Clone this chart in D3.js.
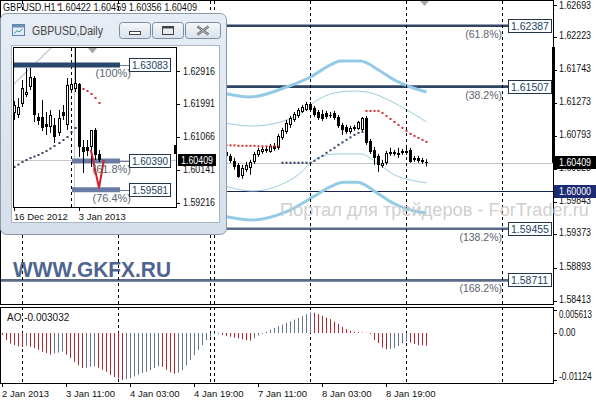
<!DOCTYPE html>
<html><head><meta charset="utf-8">
<script src="https://cdn.jsdelivr.net/npm/d3@7/dist/d3.min.js"></script>
<style>
html,body{margin:0;padding:0;background:#fff;overflow:hidden}
svg{display:block}
text{font-family:"Liberation Sans",Arial,sans-serif}
</style></head><body>
<svg id="chart" width="596" height="400"></svg>
<script>
// ================= DATA =================
const chartTitle = "GBPUSD.H1 1.60422 1.60459 1.60356 1.60409";
const lastClose = 1.60409;
const roundLevel = 1.60000;
const priceTicks = [1.62693,1.62223,1.61743,1.61273,1.60793,1.60323,1.59843,1.59373,1.58893,1.58413];
const aoTicks = [0.005613, 0, -0.01124];
const aoTickLabels = ["0.005613","0.00","-0.01124"];
const aoTitle = "AO -0.003032";
const timeLabels = ["2 Jan 2013","3 Jan 11:00","4 Jan 03:00","4 Jan 19:00","7 Jan 11:00","8 Jan 03:00","8 Jan 19:00"];
const timeLabelBars = [0,16,32,48,64,80,96];
const daySeparatorBars = [5,29,52,53,77,101,125];

// H1 candles (bars 55..106; earlier ones are hidden behind the daily window)
const candleBars = [55,56,57,58,59,60,61,62,63,64,65,66,67,68,69,70,71,72,73,74,75,76,77,78,79,80,81,82,83,84,85,86,87,88,89,90,91,92,93,94,95,96,97,98,99,100,101,102,103,104,105,106];
const candleOpen  = [1.60595,1.60566,1.60509,1.60437,1.60379,1.60221,1.60307,1.60336,1.60422,1.60523,1.60566,1.60609,1.60566,1.60653,1.60624,1.60768,1.60854,1.60955,1.61027,1.61085,1.61142,1.61171,1.61257,1.61200,1.61142,1.61113,1.61128,1.61099,1.61128,1.61070,1.60955,1.60926,1.60854,1.60926,1.60897,1.60883,1.61056,1.60725,1.60595,1.60509,1.60365,1.60408,1.60537,1.60566,1.60523,1.60552,1.60552,1.60595,1.60451,1.60480,1.60451,1.60422];
const candleHigh  = [1.60624,1.60595,1.60537,1.60480,1.60408,1.60379,1.60422,1.60451,1.60566,1.60624,1.60638,1.60638,1.60681,1.60696,1.60825,1.60912,1.61027,1.61085,1.61142,1.61200,1.61243,1.61286,1.61286,1.61229,1.61171,1.61171,1.61157,1.61142,1.61157,1.61099,1.60984,1.60955,1.60941,1.60955,1.61013,1.61070,1.61085,1.60753,1.60638,1.60537,1.60451,1.60581,1.60624,1.60595,1.60624,1.60609,1.60667,1.60624,1.60509,1.60509,1.60480,1.60459];
const candleLow   = [1.60523,1.60480,1.60408,1.60307,1.60192,1.60177,1.60278,1.60235,1.60393,1.60494,1.60537,1.60552,1.60552,1.60581,1.60595,1.60739,1.60825,1.60912,1.60998,1.61056,1.61128,1.61157,1.61142,1.61070,1.61027,1.61013,1.61041,1.61056,1.61027,1.60912,1.60811,1.60825,1.60825,1.60869,1.60883,1.60869,1.60667,1.60537,1.60379,1.60278,1.60336,1.60379,1.60509,1.60509,1.60480,1.60523,1.60523,1.60408,1.60422,1.60408,1.60393,1.60356];
const candleClose = [1.60552,1.60509,1.60437,1.60350,1.60206,1.60336,1.60379,1.60422,1.60537,1.60595,1.60609,1.60581,1.60653,1.60609,1.60797,1.60883,1.60984,1.61056,1.61113,1.61171,1.61214,1.61257,1.61171,1.61099,1.61056,1.61041,1.61070,1.61085,1.61056,1.60941,1.60883,1.60854,1.60912,1.60897,1.60998,1.61056,1.60696,1.60566,1.60480,1.60379,1.60408,1.60552,1.60566,1.60537,1.60552,1.60581,1.60581,1.60422,1.60480,1.60437,1.60422,1.60409];

// Parabolic SAR
const sarAboveBars   = [14,55,56,57,58,59,60,61,62,63,64,65,66,67,68,69,91,92,93,94,95,96,97,98,99,100,101,102,103,104,105,106];
const sarAboveValues = [1.62690,1.60660,1.60660,1.60660,1.60660,1.60653,1.60653,1.60653,1.60653,1.60653,1.60646,1.60646,1.60646,1.60646,1.60646,1.60646,1.61157,1.61157,1.61157,1.61157,1.61128,1.61085,1.61041,1.60998,1.60955,1.60912,1.60869,1.60825,1.60796,1.60768,1.60739,1.60710];
const sarBelowBars   = [70,71,72,73,74,75,76,77,78,79,80,81,82,83,84,85,86,87,88,89,90];
const sarBelowValues = [1.60408,1.60408,1.60408,1.60408,1.60408,1.60408,1.60408,1.60408,1.60437,1.60473,1.60509,1.60552,1.60588,1.60624,1.60667,1.60703,1.60739,1.60775,1.60811,1.60840,1.60854];

// Bands [bar, price]
const bandUpperWide = [[54,1.61430],[62,1.61358],[71,1.61502],[77,1.61647],[82,1.61820],[84.5,1.61877],[89.5,1.61877],[94,1.61748],[98,1.61603],[102,1.61502],[106,1.61430]];
const bandUpperThin = [[54,1.60997],[62.5,1.60939],[71,1.61026],[75,1.61141],[78,1.61286],[83,1.61416],[88,1.61444],[91,1.61430],[98,1.61271],[102,1.61141],[106,1.60997]];
const bandLowerThin = [[54,1.60102],[62.5,1.60001],[71,1.60131],[74.5,1.60261],[77,1.60405],[79.5,1.60492],[83,1.60535],[89.5,1.60535],[93.75,1.60405],[98,1.60232],[102,1.60160],[106,1.60117]];
const bandLowerWide = [[54,1.59655],[62.5,1.59583],[71,1.59702],[77.75,1.59919],[82,1.60063],[85.25,1.60127],[88.75,1.60127],[93.75,1.59968],[97.75,1.59824],[103.75,1.59702],[106,1.59683]];

// Fibonacci levels (main chart)
const fibLevels = [1.62387,1.61507,1.59455,1.58711];
const fibLabels = ["(61.8%)","(38.2%)","(138.2%)","(168.2%)"];

// Awesome Oscillator, bars 0..106
const aoValues = [-0.0005,-0.0017,-0.0025,-0.0029,-0.0032,-0.0033,-0.0031,-0.0033,-0.0036,-0.0040,
 -0.0045,-0.0048,-0.0052,-0.0049,-0.0047,-0.0044,-0.0052,-0.0060,-0.0069,-0.0077,
 -0.0084,-0.0083,-0.0081,-0.0080,-0.0083,-0.0088,-0.0093,-0.0100,-0.0105,-0.0109,
 -0.01124,-0.0110,-0.0108,-0.0104,-0.0100,-0.0096,-0.0093,-0.0089,-0.0084,-0.0080,
 -0.0081,-0.0088,-0.0094,-0.0097,-0.0095,-0.0089,-0.0077,-0.0065,-0.0053,-0.0041,
 -0.0029,-0.0017,-0.0009,-0.0003,-0.0002,-0.0005,-0.0007,-0.0009,-0.0011,-0.0013,
 -0.0015,-0.0017,-0.0018,-0.0013,-0.0006,-0.0002,0.0003,0.0008,0.0012,0.0016,
 0.0020,0.0024,0.0028,0.0032,0.0036,0.0040,0.0045,0.0049,0.00485,0.0045,
 0.0041,0.0037,0.0033,0.0027,0.0022,0.0015,0.0009,0.00055,0.0003,0.00022,
 0.00012,0.00005,-0.0002,-0.0017,-0.0024,-0.0035,-0.0039,-0.0038,-0.0036,-0.0031,
 -0.0025,-0.0021,-0.0023,-0.0026,-0.0029,-0.0030,-0.003032];

// Inset: GBPUSD Daily
const insetTitle = "GBPUSD,Daily";
const insetTicks = [1.62916,1.61991,1.61066,1.60141,1.59216];
const insetTimeLabels = ["16 Dec 2012","3 Jan 2013"];
const insetTimeBars = [0,16];
const dOpen  = [1.61736,1.61680,1.61989,1.62242,1.62466,1.62719,1.61623,1.61623,1.61427,1.61342,1.61399,1.61174,1.61764,1.61399,1.62382,1.62410,1.62551,1.60780,1.60780,1.60780,1.61258,1.60584];
const dHigh  = [1.62073,1.62157,1.62663,1.63000,1.63000,1.62776,1.61736,1.62101,1.61764,1.61820,1.61595,1.61820,1.61961,1.62719,1.62663,1.63800,1.62579,1.60977,1.60977,1.61258,1.61314,1.60696];
const dLow   = [1.61539,1.61595,1.61904,1.62185,1.62382,1.61483,1.61399,1.61230,1.61118,1.61174,1.60893,1.61090,1.61539,1.61258,1.62326,1.62326,1.60500,1.60050,1.60528,1.60218,1.60416,1.60359];
const dClose = [1.61961,1.61904,1.62438,1.62326,1.62747,1.61680,1.61511,1.61314,1.61342,1.61680,1.61061,1.61595,1.61651,1.62523,1.62551,1.62579,1.60780,1.60640,1.60668,1.61258,1.60556,1.60409];
const dSarBelow = [1.60218,1.60289,1.60359,1.60415,1.60471,1.60513,1.60556,1.60612,1.60668,1.60738,1.60809,1.60893,1.60977,1.61061,1.61202,1.61314];
const dSarAboveBars = [17,18,19,20,21];
const dSarAbove = [1.62410,1.62354,1.62270,1.62157,1.62017];
const dZigzag = [[19,1.60696],[21,1.59628],[22.2,1.60415]];
const dFibLevels = [1.63083,1.60390,1.59581];
const dFibLabels = ["(100%)","(61.8%)","(76.4%)"];
const dTrend = [[-0.25,1.62523],[9.4,1.63590]];

// ================= DRAW =================
const svg = d3.select("#chart");
const defs = svg.append("defs");
function clip(id,x,y,w,h){defs.append("clipPath").attr("id",id).append("rect").attr("x",x).attr("y",y).attr("width",w).attr("height",h);}
clip("cMain",1,1,552,303);
clip("cAO",1,308,552,75);
clip("cIn",14,48,162,159);
const g1 = defs.append("linearGradient").attr("id","frameG").attr("x1",0).attr("y1",0).attr("x2",0).attr("y2",1);
g1.append("stop").attr("offset","0").attr("stop-color","#e6edf5");
g1.append("stop").attr("offset","1").attr("stop-color","#d5dfea");
const g2 = defs.append("linearGradient").attr("id","btnG").attr("x1",0).attr("y1",0).attr("x2",0).attr("y2",1);
g2.append("stop").attr("offset","0").attr("stop-color","#f6f8fb");
g2.append("stop").attr("offset","1").attr("stop-color","#d9e1ea");

const xM = d3.scaleLinear().domain([0,125]).range([2,502]);
const yM = d3.scaleLinear().domain([1.58413,1.62693]).range([301,4.5]);
const yA = d3.scaleLinear().domain([-0.01124,0.005613]).range([380,309.5]);
const xI = d3.scaleLinear().domain([0,21]).range([14,99]);
const yI = d3.scaleLinear().domain([1.59216,1.62916]).range([202.7,71]);
const px = v => Math.round(v)+0.5;

svg.append("rect").attr("width",596).attr("height",400).attr("fill","#fff");

function drawCandles(g,bars,o,h,l,c,x,y){
  const data = bars.map((k,i)=>({k,o:o[i],h:h[i],l:l[i],c:c[i]}));
  g.append("g").selectAll("line").data(data).join("line")
   .attr("x1",d=>px(x(d.k))).attr("x2",d=>px(x(d.k)))
   .attr("y1",d=>y(d.h)).attr("y2",d=>y(d.l)).attr("stroke","#000").attr("stroke-width",1);
  g.append("g").selectAll("rect").data(data).join("rect")
   .attr("x",d=>Math.round(x(d.k))-1).attr("width",3)
   .attr("y",d=>Math.round(y(Math.max(d.o,d.c))))
   .attr("height",d=>Math.max(1,Math.round(Math.abs(y(d.o)-y(d.c)))))
   .attr("fill","#000");
  g.append("g").selectAll("rect").data(data.filter(d=>d.c>d.o && Math.round(Math.abs(y(d.o)-y(d.c)))>=3)).join("rect")
   .attr("x",d=>Math.round(x(d.k))).attr("width",1)
   .attr("y",d=>Math.round(y(d.c))+1)
   .attr("height",d=>Math.round(Math.abs(y(d.o)-y(d.c)))-2)
   .attr("fill","#fff");
}
function drawDots(g,bars,vals,x,y,color){
  g.append("g").selectAll("rect").data(bars.map((k,i)=>[k,vals[i]])).join("rect")
   .attr("x",d=>Math.round(x(d[0]))-0.5).attr("y",d=>y(d[1])-1)
   .attr("width",2).attr("height",2).attr("fill",color);
}

// ---------- main price panel ----------
const main = svg.append("g").attr("clip-path","url(#cMain)");
main.append("line").attr("x1",0).attr("x2",553).attr("y1",px(yM(lastClose))).attr("y2",px(yM(lastClose))).attr("stroke","#c4c4c4");
main.append("line").attr("x1",0).attr("x2",553).attr("y1",px(yM(roundLevel))).attr("y2",px(yM(roundLevel))).attr("stroke","#1b2350");
main.selectAll("line.fib").data(fibLevels).join("line").attr("class","fib")
  .attr("x1",0).attr("x2",xM(126.5)).attr("y1",d=>yM(d)).attr("y2",d=>yM(d))
  .attr("stroke",(d,i)=>i<2?"#2f4563":"#5a6b8a").attr("stroke-width",2.6);
const bl = d3.line().x(d=>xM(d[0])+0.5).y(d=>yM(d[1])).curve(d3.curveMonotoneX);
main.append("path").attr("d",bl(bandUpperWide)).attr("fill","none").attr("stroke","#93cbe6").attr("stroke-width",3);
main.append("path").attr("d",bl(bandLowerWide)).attr("fill","none").attr("stroke","#93cbe6").attr("stroke-width",3);
main.append("path").attr("d",bl(bandUpperThin)).attr("fill","none").attr("stroke","#9ccbe2").attr("stroke-width",1);
main.append("path").attr("d",bl(bandLowerThin)).attr("fill","none").attr("stroke","#9ccbe2").attr("stroke-width",1);
main.append("text").attr("x",13).attr("y",277).attr("font-size",22).attr("font-weight","bold").attr("fill","#4f6590")
  .attr("textLength",158).attr("lengthAdjust","spacingAndGlyphs").text("WWW.GKFX.RU");
drawCandles(main,candleBars,candleOpen,candleHigh,candleLow,candleClose,xM,yM);
drawDots(main,sarAboveBars,sarAboveValues,xM,yM,"#d22a2a");
drawDots(main,sarBelowBars,sarBelowValues,xM,yM,"#2f3c60");
main.append("path").attr("d","M420,1L429,1L424.5,6Z").attr("fill","#a9a9a9");

// day separators through both panels
svg.append("g").selectAll("line").data(daySeparatorBars).join("line")
  .attr("x1",d=>px(xM(d))).attr("x2",d=>px(xM(d))).attr("y1",1).attr("y2",383)
  .attr("stroke","#000").attr("stroke-dasharray","3,3");

// fib labels
const fl = svg.append("g");
fibLevels.forEach((v,i)=>{
  const y = yM(v);
  fl.append("rect").attr("x",508.5).attr("y",Math.round(y)-6.5).attr("width",43).attr("height",13).attr("fill","#fff").attr("stroke","#22354d");
  fl.append("text").attr("x",511).attr("y",Math.round(y)+4).attr("font-size",10.5).attr("fill","#243f63").text(v.toFixed(5));
  fl.append("text").attr("x",502).attr("y",y+12).attr("text-anchor","end").attr("font-size",10.5).attr("fill","#5c6470").text(fibLabels[i]);
});

// title
svg.append("text").attr("x",3).attr("y",11).attr("font-size",10).attr("fill","#111")
  .attr("textLength",194).attr("lengthAdjust","spacingAndGlyphs").text(chartTitle);

// borders
svg.append("rect").attr("x",0.5).attr("y",0.5).attr("width",553).attr("height",304).attr("fill","none").attr("stroke","#000");
svg.append("rect").attr("x",0.5).attr("y",307.5).attr("width",553).attr("height",76).attr("fill","none").attr("stroke","#000");

// price axis
const ax = svg.append("g");
ax.selectAll("line").data(priceTicks).join("line")
  .attr("x1",554).attr("x2",557).attr("y1",d=>px(yM(d))).attr("y2",d=>px(yM(d))).attr("stroke","#000");
ax.selectAll("text").data(priceTicks).join("text")
  .attr("x",559).attr("y",d=>Math.max(9,yM(d)+2)).attr("font-size",10).attr("fill","#111")
  .attr("textLength",32).attr("lengthAdjust","spacingAndGlyphs").text(d=>d.toFixed(5));
svg.append("rect").attr("x",554).attr("y",Math.round(yM(roundLevel))-6).attr("width",42).attr("height",13).attr("fill","#1d2a74");
svg.append("text").attr("x",559).attr("y",Math.round(yM(roundLevel))+4).attr("font-size",10).attr("fill","#fff")
  .attr("textLength",32).attr("lengthAdjust","spacingAndGlyphs").text(roundLevel.toFixed(5));
svg.append("rect").attr("x",552).attr("y",47).attr("width",3).attr("height",yM(lastClose)-47).attr("fill","#000");
svg.append("rect").attr("x",554).attr("y",Math.round(yM(lastClose))-7).attr("width",42).attr("height",13).attr("fill","#000");
svg.append("text").attr("x",559).attr("y",Math.round(yM(lastClose))+3).attr("font-size",10).attr("fill","#fff")
  .attr("textLength",32).attr("lengthAdjust","spacingAndGlyphs").text(lastClose.toFixed(5));

// watermark (spans over the price axis, as in the reference)
svg.append("text").attr("x",280).attr("y",216).attr("font-size",18).attr("fill","#c9c9c9").attr("fill-opacity",0.9)
  .attr("textLength",309).attr("lengthAdjust","spacingAndGlyphs").text("Портал для трейдеров - ForTrader.ru");

// ---------- AO panel ----------
const ao = svg.append("g").attr("clip-path","url(#cAO)");
ao.selectAll("line").data(aoValues).join("line")
  .attr("x1",(d,i)=>px(xM(i))).attr("x2",(d,i)=>px(xM(i)))
  .attr("y1",yA(0)).attr("y2",d=>yA(d))
  .attr("stroke",(d,i)=> (i===0 || d<aoValues[i-1]) ? "#b5262c" : "#66758e").attr("stroke-width",1);
svg.append("text").attr("x",7).attr("y",321).attr("font-size",10).attr("fill","#111").text(aoTitle);
const aax = svg.append("g");
aax.selectAll("line").data(aoTicks).join("line").attr("x1",554).attr("x2",557)
  .attr("y1",d=>px(yA(d))).attr("y2",d=>px(yA(d))).attr("stroke","#000");
aax.selectAll("text").data(aoTicks).join("text")
  .attr("x",559).attr("y",d=>Math.min(380,Math.max(318,yA(d)+3.5))).attr("font-size",10).attr("fill","#111")
  .attr("textLength",(d,i)=>aoTickLabels[i].length*4.1).attr("lengthAdjust","spacingAndGlyphs")
  .text((d,i)=>aoTickLabels[i]);

// time axis
const tx = svg.append("g");
tx.selectAll("line").data(timeLabelBars).join("line")
  .attr("x1",d=>px(xM(d))).attr("x2",d=>px(xM(d))).attr("y1",384).attr("y2",387).attr("stroke","#000");
tx.selectAll("text").data(timeLabelBars).join("text")
  .attr("x",d=>xM(d)).attr("y",397).attr("font-size",9.5).attr("fill","#111").text((d,i)=>timeLabels[i]);

// ---------- Inset daily window ----------
const ig = svg.append("g");
ig.append("rect").attr("x",0.5).attr("y",13.5).attr("width",226).attr("height",221).attr("rx",6)
  .attr("fill","url(#frameG)").attr("stroke","#8a99ad");
ig.append("rect").attr("x",11.5).attr("y",45.5).attr("width",208).attr("height",177).attr("fill","#fff").attr("stroke","#a9b5c3");
ig.append("rect").attr("x",12.5).attr("y",24.5).attr("width",12).attr("height",11).attr("fill","#e4eef8").attr("stroke","#5f7fa6");
ig.append("rect").attr("x",12.5).attr("y",24.5).attr("width",12).attr("height",3).attr("fill","#6d8fb8");
ig.append("path").attr("d","M14.5,33.5L17,30.5L19,32L22.5,29").attr("fill","none").attr("stroke","#3e8f9a");
ig.append("text").attr("x",32).attr("y",35).attr("font-family","'Open Sans','Noto Sans',sans-serif").attr("font-size",12)
  .attr("fill","#454545").attr("textLength",71).attr("lengthAdjust","spacingAndGlyphs").text(insetTitle);
[[119.5,31],[152.5,31],[185.5,35]].forEach(b=>{
  ig.append("rect").attr("x",b[0]).attr("y",22.5).attr("width",b[1]).attr("height",16).attr("rx",3)
    .attr("fill","url(#btnG)").attr("stroke","#7c8ca0");
});
ig.append("rect").attr("x",129.5).attr("y",31.5).attr("width",11).attr("height",3).attr("fill","#fff").attr("stroke","#444");
ig.append("rect").attr("x",162.5).attr("y",26.5).attr("width",11).attr("height",8).attr("fill","none").attr("stroke","#444").attr("stroke-width",1);
ig.append("line").attr("x1",162.5).attr("x2",173.5).attr("y1",27.5).attr("y2",27.5).attr("stroke","#444").attr("stroke-width",2);
ig.append("path").attr("d","M197.5,26.5L208.5,34.5M208.5,26.5L197.5,34.5").attr("stroke","#555").attr("stroke-width",2.2);
ig.append("path").attr("d","M197.5,26.5L208.5,34.5M208.5,26.5L197.5,34.5").attr("stroke","#e9eef3").attr("stroke-width",0.8);
ig.append("rect").attr("x",13.5).attr("y",47.5).attr("width",163).attr("height",160).attr("fill","#fff").attr("stroke","#000");
const ip = ig.append("g").attr("clip-path","url(#cIn)");
ip.append("line").attr("x1",14).attr("x2",176).attr("y1",px(yI(lastClose))).attr("y2",px(yI(lastClose))).attr("stroke","#c8c8c8");
ip.append("line").attr("x1",px(xI(15))-1).attr("x2",px(xI(15))-1).attr("y1",48).attr("y2",207).attr("stroke","#c8c8c8");
ip.append("line").attr("x1",px(xI(14))).attr("x2",px(xI(14))).attr("y1",48).attr("y2",207).attr("stroke","#000").attr("stroke-dasharray","3,3");
ip.append("path").attr("d",d3.line().x(d=>xI(d[0])).y(d=>yI(d[1]))(dTrend)).attr("stroke","#c9ced6").attr("stroke-width",1.5).attr("fill","none");
ip.append("path").attr("d","M88,48L97,48L92.5,53.5Z").attr("fill","#a6a6a6");
dFibLevels.forEach((v,i)=>{
  const y = yI(v);
  ip.append("line").attr("x1",i===0?13:72).attr("x2",120).attr("y1",y).attr("y2",y)
    .attr("stroke",i===0?"#27476b":"#6a7ca6").attr("stroke-width",5);
});
drawCandles(ip,d3.range(dOpen.length),dOpen,dHigh,dLow,dClose,xI,yI);
drawDots(ip,d3.range(dSarBelow.length),dSarBelow,xI,yI,"#2f3c60");
drawDots(ip,dSarAboveBars,dSarAbove,xI,yI,"#d22a2a");
ip.append("path").attr("d",d3.line().x(d=>xI(d[0])).y(d=>yI(d[1]))(dZigzag)).attr("fill","none").attr("stroke","#d0202a").attr("stroke-width",2);
ip.append("rect").attr("x",174).attr("y",145).attr("width",3).attr("height",9).attr("fill","#000");
dFibLevels.forEach((v,i)=>{
  const y = yI(v);
  ig.append("line").attr("x1",120).attr("x2",129).attr("y1",px(y)).attr("y2",px(y)).attr("stroke","#6a7ca6");
  ig.append("text").attr("x",131).attr("y",y+12).attr("text-anchor","end").attr("font-size",11).attr("fill","#5c6470").text(dFibLabels[i]);
  ig.append("rect").attr("x",129.5).attr("y",Math.round(y)-6.5).attr("width",41).attr("height",13).attr("fill","#fff").attr("stroke","#22354d");
  ig.append("text").attr("x",132).attr("y",Math.round(y)+4).attr("font-size",11).attr("fill","#243f63")
    .attr("textLength",36).attr("lengthAdjust","spacingAndGlyphs").text(v.toFixed(5));
});
ig.selectAll("line.it").data(insetTicks).join("line").attr("class","it")
  .attr("x1",177).attr("x2",180).attr("y1",d=>px(yI(d))).attr("y2",d=>px(yI(d))).attr("stroke","#000");
ig.selectAll("text.it").data(insetTicks).join("text").attr("class","it")
  .attr("x",183).attr("y",d=>yI(d)+3.5).attr("font-size",10).attr("fill","#111")
  .attr("textLength",32).attr("lengthAdjust","spacingAndGlyphs").text(d=>d.toFixed(5));
ig.append("rect").attr("x",178).attr("y",Math.round(yI(lastClose))-6).attr("width",38).attr("height",12).attr("fill","#000");
ig.append("text").attr("x",181).attr("y",Math.round(yI(lastClose))+4).attr("font-size",10).attr("fill","#fff")
  .attr("textLength",32).attr("lengthAdjust","spacingAndGlyphs").text(lastClose.toFixed(5));
ig.selectAll("line.itx").data(insetTimeBars).join("line").attr("class","itx")
  .attr("x1",d=>px(xI(d))).attr("x2",d=>px(xI(d))).attr("y1",208).attr("y2",211).attr("stroke","#000");
ig.selectAll("text.itx").data(insetTimeBars).join("text").attr("class","itx")
  .attr("x",d=>xI(d)).attr("y",220).attr("font-size",9.5).attr("fill","#111").text((d,i)=>insetTimeLabels[i]);
</script></body></html>
